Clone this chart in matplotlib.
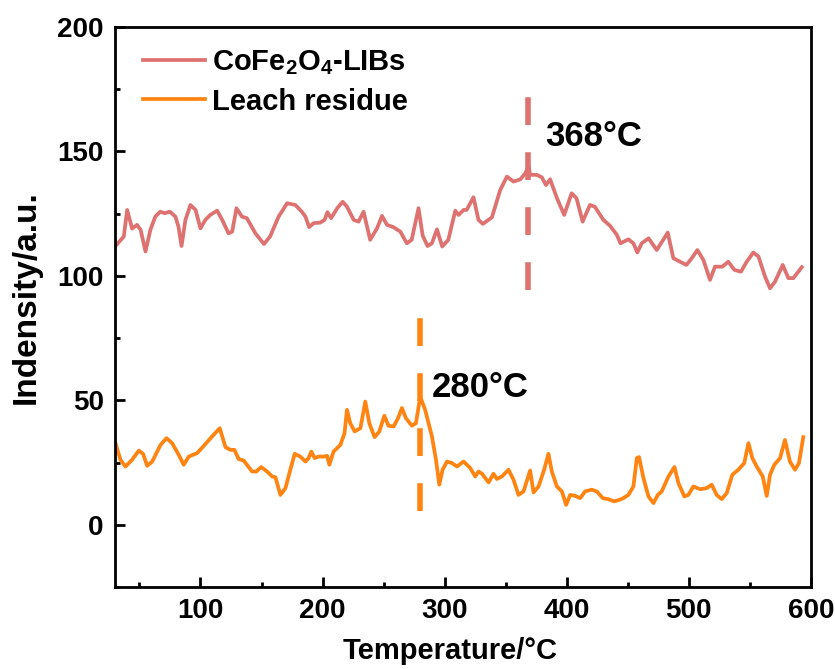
import numpy as np
import matplotlib
matplotlib.use('Agg')
import matplotlib.pyplot as plt
from matplotlib.ticker import MultipleLocator

plt.rcParams['font.family'] = ['Liberation Sans', 'DejaVu Sans']
plt.rcParams['font.weight'] = 'bold'
plt.rcParams['mathtext.fontset'] = 'custom'
plt.rcParams['mathtext.rm'] = 'Liberation Sans:bold'
plt.rcParams['mathtext.it'] = 'Liberation Sans:bold'
plt.rcParams['mathtext.bf'] = 'Liberation Sans:bold'

# CoFe2O4-LIBs curve (temperature, intensity)
lib_t = [30.4, 37.2, 40, 44, 48, 51, 55, 59, 63, 67, 71, 75, 79.5, 82, 84.5, 87.7, 91.8, 96,
         100, 104, 108, 113.7, 117.8, 123, 126, 129.5, 134, 138, 145, 152, 157, 164, 171,
         177.7, 183, 186, 189, 192.7, 198, 201.7, 204, 207, 212, 216.5, 220, 225.5, 229.5,
         233.6, 239, 244.6, 248.7, 252.8, 258, 263.7, 269, 273, 278.6, 282, 286, 289.6,
         293.7, 298, 303, 308.7, 311.4, 315.5, 318, 323.6, 327.7, 331.3, 338.7, 345.5, 351,
         356.4, 362, 366, 368.7, 370, 375.5, 379.6, 383, 386.4, 392, 397.9, 404, 408, 413,
         419, 423, 430, 435.5, 441, 444, 450.5, 454.6, 457.8, 461.4, 467, 473.7, 479, 482.7,
         487.3, 492.8, 498, 502.4, 507, 511.9, 517.3, 521.4, 527.4, 532.3, 537.3, 542.7,
         547.4, 552.8, 557, 562.4, 566.5, 570.6, 576.9, 581.5, 585.6, 592.5]
lib_i = [112, 115.8, 126.5, 119, 120.5, 118.5, 109.8, 118.5, 123.8, 125.8, 125.2, 125.8, 123.8,
         119.8, 112, 122.5, 128.5, 126.5, 119.1, 122.5, 124.5, 126.2, 122.5, 117.1, 117.8,
         127.2, 123.8, 123.2, 117.1, 112.8, 115.8, 123.8, 129.2, 128.5, 125.8, 123.8, 119.6,
         121.2, 121.4, 122.5, 125.6, 123.2, 127.2, 129.8, 127.8, 122.5, 121.8, 125.8, 114.5,
         119.1, 124.1, 120.5, 119.6, 117.8, 113.1, 114.5, 127.2, 116.2, 112, 113.1, 118.7,
         111.8, 114.5, 126.2, 124.5, 126.5, 126.5, 131.6, 122.5, 120.9, 123.5, 134.5, 139.9,
         137.9, 138.8, 141.2, 144.2, 140.6, 140.6, 139.6, 136.5, 138.8, 131.2, 124.5, 133.2,
         131.2, 121.8, 128.5, 127.8, 122.5, 120.1, 116.5, 113.1, 114.7, 113.1, 109.4, 113.1,
         115.1, 110.4, 114.5, 117.4, 107.1, 105.7, 104.4, 107.1, 110.4, 106.4, 98.4, 103.7,
         103.7, 105.7, 102.4, 101.7, 105.7, 109.4, 107.8, 99.7, 95, 97.7, 104.4, 99.1, 99.1,
         103.5]

# Leach residue curve
res_t = [30.4, 34.5, 38.6, 44, 49.5, 53, 56.4, 60.5, 67.3, 72.2, 76.8, 82.2, 86.3, 90.4, 97.3,
         102.7, 109.6, 115.8, 120.5, 124.5, 127.8, 131.3, 135.4, 142.3, 145.8, 149.7, 154.6,
         158.7, 161.4, 165.5, 169.6, 173.6, 177.2, 181.8, 186, 188.6, 190.8, 193.5, 196.8,
         200.9, 203.7, 205.6, 209, 214.6, 218, 220, 222.7, 226.3, 231, 235, 238.3, 242.6,
         246.5, 250.6, 254, 258.2, 261.8, 265, 268.3, 273.2, 276.5, 280, 284, 289.6, 292.9,
         295.6, 298.3, 301.9, 306, 310, 315.5, 321, 325, 327.8, 330.6, 336, 340, 342.8, 346.9,
         352.3, 356.4, 360.5, 364.6, 370, 372.8, 376.9, 381.5, 385, 387.8, 391.9, 396, 399.5,
         402.8, 406.9, 411, 415, 420.5, 424.6, 429.5, 434, 438.8, 443, 446.4, 450.5, 454.6,
         457.4, 459.2, 462.8, 466.9, 471, 474.6, 477.8, 483.3, 488.2, 491.5, 496.3, 499.6,
         503.7, 509.2, 514.6, 518.7, 522.8, 526.9, 531, 535.6, 540.5, 545.4, 548.8, 552,
         555.6, 560.5, 563.8, 566.5, 570, 574.7, 578.7, 582.8, 586.9, 590.2, 593.7]
res_i = [32.8, 26.1, 23.4, 26.1, 29.8, 28.5, 23.7, 25.4, 32.1, 34.8, 32.8, 28.1, 24.1, 27.4,
         28.8, 31.7, 35.5, 38.8, 31.2, 30.1, 30.1, 26.4, 25.8, 21.4, 21.4, 23.2, 21.4, 19.4,
         19.1, 12, 14.7, 22.1, 28.5, 27.4, 25.4, 26.8, 29.4, 26.8, 27.4, 27.4, 27.7, 24.1,
         29.4, 32.1, 36.8, 46.2, 40.8, 37.5, 38.8, 49.5, 40.8, 35.2, 37.5, 43.8, 39.8, 39.5,
         42.8, 46.9, 42.8, 39.8, 40.8, 51.5, 46.2, 35.5, 26.1, 16.1, 22.1, 25.4, 24.8, 23.4,
         25.4, 22.8, 19.4, 21.4, 20.5, 17, 20.5, 18.4, 19.4, 22.1, 18.1, 12, 13.4, 21.8, 13,
         15.4, 22.1, 28.5, 21.4, 15.4, 13.4, 8, 12, 11.6, 10.7, 13.4, 14.1, 13.4, 10.7, 10.3,
         9.4, 10, 10.7, 12, 15.4, 26.8, 27.2, 18.8, 11.4, 8.7, 12, 13.4, 19.4, 23.2, 16.7,
         11.4, 12, 15.4, 14.3, 14.7, 16.1, 12, 10.3, 12.7, 20.1, 22.1, 24.8, 32.8, 26.8, 23.4,
         19.4, 11.6, 20.1, 24.1, 26.8, 34.1, 25.4, 22.1, 24.8, 35.2]

peak_t = [368, 280]
peak_span = [(94.4, 172), (5.7, 83.1)]
peak_text = ['368°C', '280°C']
peak_text_pos = [(382, 156), (289.6, 55.2)]

pink = '#DE7270'
orange = '#FF8412'

fig = plt.figure(figsize=(8.35, 6.69), dpi=100)
ax = fig.add_axes([0.1377, 0.1226, 0.8335, 0.837])

ax.plot(lib_t, lib_i, color=pink, lw=2.7, solid_joinstyle='round', label='CoFe$_2$O$_4$-LIBs')
ax.plot(res_t, res_i, color=orange, lw=2.7, solid_joinstyle='round', label='Leach residue')

for t, (y0, y1), c in zip(peak_t, peak_span, [pink, orange]):
    ax.plot([t, t], [y0, y1], color=c, lw=4, linestyle=(0, (5, 4.9)))

for txt, (tx, ty) in zip(peak_text, peak_text_pos):
    ax.text(tx, ty, txt, fontsize=25, fontweight='bold', va='center', ha='left')

ax.set_xlim(30, 600)
ax.set_ylim(-25, 200)
ax.xaxis.set_major_locator(MultipleLocator(100))
ax.xaxis.set_minor_locator(MultipleLocator(50))
ax.yaxis.set_major_locator(MultipleLocator(50))
ax.yaxis.set_minor_locator(MultipleLocator(25))
ax.tick_params(which='both', direction='in', width=2, labelsize=20, pad=8)
ax.tick_params(which='major', length=7)
ax.tick_params(which='minor', length=3.5)
for sp in ax.spines.values():
    sp.set_linewidth(2)

ax.set_xlabel('Temperature/°C', fontsize=21, fontweight='bold', labelpad=9)
ax.xaxis.label.set_x(0.482)
ax.set_ylabel('Indensity/a.u.', fontsize=24, fontweight='bold', labelpad=11)
ax.yaxis.label.set_y(0.518)

ax.legend(loc='upper left', bbox_to_anchor=(0.04, 0.963), frameon=False, fontsize=21,
          handlelength=2.12, borderpad=0, borderaxespad=0, labelspacing=0.38, handletextpad=0.24)

plt.savefig('out.png', dpi=100)
